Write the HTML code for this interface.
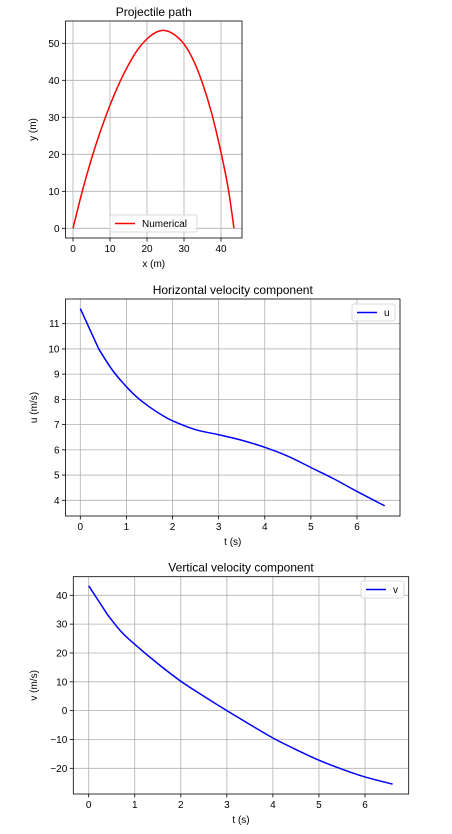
<!DOCTYPE html>
<html><head><meta charset="utf-8">
<style>
body{margin:0;background:#fff;}
svg{display:block;font-family:"Liberation Sans","DejaVu Sans",sans-serif;}
</style></head>
<body>
<svg id="chart" width="452" height="834" viewBox="0 0 452 834" xmlns="http://www.w3.org/2000/svg"></svg>
<script>
// Plot 1 data: projectile path
const pathX = [0, 2.5, 5, 7.5, 10, 12.5, 15, 17.5, 20, 22.5, 24.5, 27, 30, 32.5, 35, 37.5, 40, 42, 43.5];
const pathY = [0, 10, 18.8, 26.5, 33.3, 39.2, 44.2, 48.3, 51.2, 53, 53.5, 52.6, 49.8, 45.5, 39.2, 31, 20.5, 10.5, 0];
const p1XTicks = [0, 10, 20, 30, 40];
const p1YTicks = [0, 10, 20, 30, 40, 50];
// Plot 2 data: horizontal velocity
const uT = [0, 0.4, 0.7, 1, 1.25, 1.5, 1.75, 2, 2.5, 3, 3.5, 4, 4.5, 5, 5.5, 6, 6.6];
const uVal = [11.6, 10, 9.15, 8.5, 8.05, 7.7, 7.4, 7.15, 6.8, 6.6, 6.38, 6.1, 5.75, 5.3, 4.85, 4.35, 3.78];
const p2XTicks = [0, 1, 2, 3, 4, 5, 6];
const p2YTicks = [4, 5, 6, 7, 8, 9, 10, 11];
// Plot 3 data: vertical velocity
const vT = [0, 0.4, 0.7, 1, 1.5, 2, 2.5, 3, 3.5, 4, 4.5, 5, 5.5, 6, 6.6];
const vVal = [43.3, 33.5, 27.5, 23, 16.3, 10.2, 5, 0, -4.8, -9.5, -13.5, -17.2, -20.3, -23, -25.5];
const p3XTicks = [0, 1, 2, 3, 4, 5, 6];
const p3YTicks = [-20, -10, 0, 10, 20, 30, 40];

const NS = "http://www.w3.org/2000/svg";
const svg = document.getElementById('chart');
function mk(tag, attrs, parent) {
  const e = document.createElementNS(NS, tag);
  for (const k in attrs) e.setAttribute(k, attrs[k]);
  (parent || svg).appendChild(e);
  return e;
}
function lin(d0, d1, r0, r1) { return v => r0 + (v - d0) * (r1 - r0) / (d1 - d0); }
function fmt(v) { return v < 0 ? '\u2212' + Math.abs(v) : String(v); }
function smoothPath(pts, sharp) {
  let d = 'M' + pts[0][0].toFixed(2) + ' ' + pts[0][1].toFixed(2);
  for (let i = 0; i < pts.length - 1; i++) {
    const p0 = pts[Math.max(0, i - 1)], p1 = pts[i], p2 = pts[i + 1], p3 = pts[Math.min(pts.length - 1, i + 2)];
    const s = (sharp && sharp.includes(i)) ? 0 : 1 / 6;
    const s2 = (sharp && sharp.includes(i + 1)) ? 0 : 1 / 6;
    const c1 = [p1[0] + (p2[0] - p0[0]) * s, p1[1] + (p2[1] - p0[1]) * s];
    const c2 = [p2[0] - (p3[0] - p1[0]) * s2, p2[1] - (p3[1] - p1[1]) * s2];
    d += ' C' + c1[0].toFixed(2) + ' ' + c1[1].toFixed(2) + ' ' + c2[0].toFixed(2) + ' ' + c2[1].toFixed(2) + ' ' + p2[0].toFixed(2) + ' ' + p2[1].toFixed(2);
  }
  return d;
}

function plot(cfg) {
  const g = mk('g', {});
  
  
  const sx = cfg.sx, sy = cfg.sy, b = cfg.box;
  cfg.xt.forEach(t => {
    const x = sx(t);
    const gl = mk('line', {x1: x, x2: x, y1: b.t, y2: b.b, stroke: '#b0b0b0', 'stroke-width': 0.8}, g);
    
    
    mk('line', {x1: x, x2: x, y1: b.b, y2: b.b + 3.5, stroke: '#000', 'stroke-width': 0.8}, g);
    const tl = mk('text', {x: x, y: b.b + 14, 'font-size': 10, 'text-anchor': 'middle', fill: '#000'}, g);
    tl.textContent = fmt(t);
    
    
  });
  cfg.yt.forEach(t => {
    const y = sy(t);
    const gl = mk('line', {x1: b.l, x2: b.r, y1: y, y2: y, stroke: '#b0b0b0', 'stroke-width': 0.8}, g);
    
    
    mk('line', {x1: b.l - 3.5, x2: b.l, y1: y, y2: y, stroke: '#000', 'stroke-width': 0.8}, g);
    const tl = mk('text', {x: b.l - 6, y: y + 3.5, 'font-size': 10, 'text-anchor': 'end', fill: '#000'}, g);
    tl.textContent = fmt(t);
    
    
  });
  const pts = cfg.xs.map((v, i) => [sx(v), sy(cfg.ys[i])]);
  const ln = mk('path', {d: smoothPath(pts, cfg.sharp), fill: 'none', stroke: cfg.color, 'stroke-width': 1.5}, g);
  
  
  const fr = mk('rect', {x: b.l, y: b.t, width: b.r - b.l, height: b.b - b.t, fill: 'none', stroke: '#000', 'stroke-width': 0.8}, g);
  
  
  const ti = mk('text', {x: (b.l + b.r) / 2, y: b.t - 5, 'font-size': 12, 'text-anchor': 'middle', fill: '#000'}, g);
  ti.textContent = cfg.title;
  
  
  const xl = mk('text', {x: (b.l + b.r) / 2, y: b.b + 29, 'font-size': 10, 'text-anchor': 'middle', fill: '#000'}, g);
  xl.textContent = cfg.xlabel;
  
  
  const yx = cfg.ylx, yy = (b.t + b.b) / 2;
  const yl = mk('text', {x: yx, y: yy, 'font-size': 10, 'text-anchor': 'middle', fill: '#000', transform: 'rotate(-90 ' + yx + ' ' + yy + ')'}, g);
  yl.textContent = cfg.ylabel;
  
  
  const L = cfg.leg;
  const lg = mk('g', {}, g);
  
  
  mk('rect', {x: L.x, y: L.y, width: L.w, height: 17, rx: 2, fill: '#fff', 'fill-opacity': 0.8, stroke: '#d0d0d0', 'stroke-width': 0.8}, lg);
  mk('line', {x1: L.x + 5, x2: L.x + 25, y1: L.y + 8.5, y2: L.y + 8.5, stroke: cfg.color, 'stroke-width': 1.5}, lg);
  const lt = mk('text', {x: L.x + 32, y: L.y + 12, 'font-size': 10, fill: '#000'}, lg);
  lt.textContent = cfg.legText;
  
  
}

plot({name: 'projectile-path-plot', box: {l: 65.5, r: 242, t: 21, b: 238},
  sx: lin(0, 40, 73, 221), sy: lin(0, 50, 228.3, 43.3),
  xt: p1XTicks, yt: p1YTicks, xs: pathX, ys: pathY, color: '#ff0000', seriesName: 'numerical-path-line',
  title: 'Projectile path', xlabel: 'x (m)', ylabel: 'y (m)', ylx: 36,
  leg: {x: 110, y: 215, w: 87}, legText: 'Numerical'});

plot({name: 'horizontal-velocity-plot', box: {l: 65.5, r: 400, t: 299, b: 516},
  sx: lin(0, 6, 80.3, 357), sy: lin(4, 11, 500.3, 323.7),
  xt: p2XTicks, yt: p2YTicks, xs: uT, ys: uVal, color: '#0000ff', seriesName: 'u-line', sharp: [1],
  title: 'Horizontal velocity component', xlabel: 't (s)', ylabel: 'u (m/s)', ylx: 37,
  leg: {x: 352, y: 304, w: 43}, legText: 'u'});

plot({name: 'vertical-velocity-plot', box: {l: 73.3, r: 408.7, t: 576.7, b: 794},
  sx: lin(0, 6, 88.7, 365), sy: lin(-20, 40, 768.3, 595.3),
  xt: p3XTicks, yt: p3YTicks, xs: vT, ys: vVal, color: '#0000ff', seriesName: 'v-line', sharp: [1],
  title: 'Vertical velocity component', xlabel: 't (s)', ylabel: 'v (m/s)', ylx: 37,
  leg: {x: 361, y: 581, w: 43}, legText: 'v'});
</script>
</body></html>
